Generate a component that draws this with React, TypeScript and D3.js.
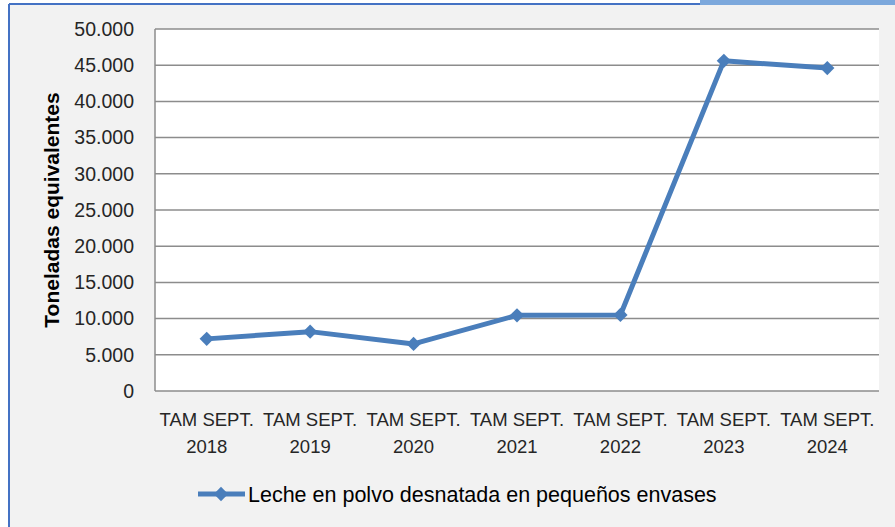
import React, { useEffect, useRef } from 'react';
import * as d3 from 'd3';

const categories = ['2018', '2019', '2020', '2021', '2022', '2023', '2024'];
const labelPrefix = 'TAM SEPT.';
const values = [7200, 8200, 6500, 10450, 10500, 45600, 44600];
const yTicks = [0, 5000, 10000, 15000, 20000, 25000, 30000, 35000, 40000, 45000, 50000];
const seriesName = 'Leche en polvo desnatada en pequeños envases';
const yTitle = 'Toneladas equivalentes';

const W = 895;
const H = 527;

export default function App() {
  const ref = useRef<SVGSVGElement>(null);

  useEffect(() => {
    const svg = d3.select(ref.current);
    svg.selectAll('*').remove();
    const font = "'Liberation Sans', Arial, sans-serif";
    const blue = '#4a7ebb';

    // chart frame
    svg.append('rect').attr('x', 0).attr('y', 0).attr('width', W).attr('height', H).attr('fill', '#fff');
    svg.append('rect').attr('x', 9).attr('y', 4).attr('width', W - 9).attr('height', H - 4).attr('fill', '#f2f2f2');
    svg.append('line').attr('x1', 9).attr('x2', W).attr('y1', 4).attr('y2', 4).attr('stroke', '#4472c4').attr('stroke-width', 2);
    svg.append('line').attr('x1', 9).attr('x2', 9).attr('y1', 4).attr('y2', H).attr('stroke', '#4472c4').attr('stroke-width', 2);
    svg.append('rect').attr('x', 700).attr('y', 0).attr('width', W - 700).attr('height', 5).attr('fill', '#7ca8dc');

    const left = 155, right = 879, top = 29, bottom = 391;

    const x = d3.scaleBand().domain(categories).range([left, right]);
    const y = d3.scaleLinear().domain([0, 50000]).range([bottom, top]);

    svg.append('rect').attr('x', left).attr('y', top).attr('width', right - left).attr('height', bottom - top).attr('fill', '#fff');

    // gridlines
    svg.append('g').selectAll('line').data(yTicks.filter(d => d > 0)).enter().append('line')
      .attr('x1', left).attr('x2', right)
      .attr('y1', d => y(d)).attr('y2', d => y(d))
      .attr('stroke', '#8c8c8c').attr('stroke-width', 1.5);

    // axes lines
    svg.append('line').attr('x1', left).attr('x2', left).attr('y1', top).attr('y2', bottom).attr('stroke', '#8c8c8c').attr('stroke-width', 1.5);
    svg.append('line').attr('x1', left).attr('x2', right).attr('y1', bottom).attr('y2', bottom).attr('stroke', '#8c8c8c').attr('stroke-width', 1.5);

    // y tick labels
    const fmt = (v: number) => d3.format(',')(v).replace(/,/g, '.');
    svg.append('g').selectAll('text').data(yTicks).enter().append('text')
      .attr('x', 134).attr('y', d => y(d)).attr('dy', '0.35em')
      .attr('text-anchor', 'end').attr('font-family', font).attr('font-size', 19.5).attr('fill', '#262626')
      .text(d => fmt(d));

    // x labels
    const xl = svg.append('g').selectAll('text').data(categories).enter().append('text')
      .attr('text-anchor', 'middle').attr('font-family', font).attr('font-size', 18.5).attr('fill', '#262626');
    xl.append('tspan').attr('x', d => (x(d) as number) + x.bandwidth() / 2).attr('y', 426).text(labelPrefix);
    xl.append('tspan').attr('x', d => (x(d) as number) + x.bandwidth() / 2).attr('y', 453).text(d => d);

    // y title
    svg.append('text')
      .attr('transform', `translate(59,${(top + bottom) / 2}) rotate(-90)`)
      .attr('text-anchor', 'middle').attr('font-family', font).attr('font-size', 21).attr('font-weight', 'bold').attr('fill', '#000')
      .text(yTitle);

    // series line
    const cx = (i: number) => (x(categories[i]) as number) + x.bandwidth() / 2;
    const line = d3.line<number>().x((d, i) => cx(i)).y(d => y(d));
    svg.append('path').datum(values).attr('d', line).attr('fill', 'none')
      .attr('stroke', blue).attr('stroke-width', 5).attr('stroke-linejoin', 'round');

    const diamond = d3.symbol().type(d3.symbolDiamond2).size(130);
    svg.append('g').selectAll('path').data(values).enter().append('path')
      .attr('d', diamond).attr('transform', (d, i) => `translate(${cx(i)},${y(d)})`)
      .attr('fill', blue);

    // legend
    svg.append('line').attr('x1', 198).attr('x2', 245).attr('y1', 494).attr('y2', 494).attr('stroke', blue).attr('stroke-width', 5);
    svg.append('path').attr('d', diamond).attr('transform', 'translate(221,494)').attr('fill', blue);
    svg.append('text').attr('x', 248).attr('y', 494).attr('dy', '0.35em')
      .attr('font-family', font).attr('font-size', 21.5).attr('fill', '#000').text(seriesName);
  }, []);

  return (
    <svg ref={ref} width={W} height={H} style={{ position: 'absolute', left: 0, top: 0 }} />
  );
}
